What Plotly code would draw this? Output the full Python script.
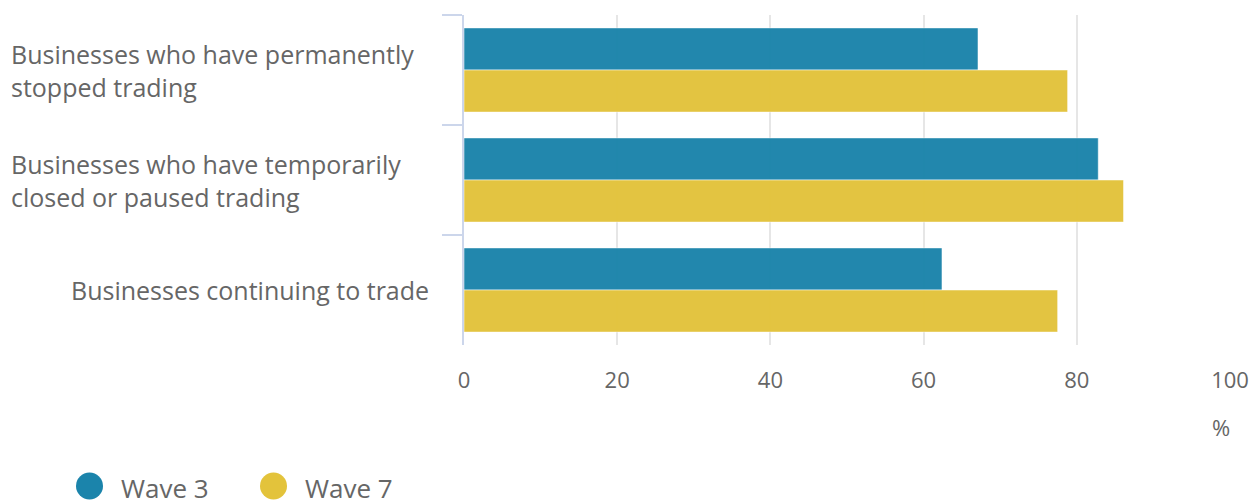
import plotly.graph_objects as go

categories = [
    "Businesses who have permanently<br>stopped trading",
    "Businesses who have temporarily<br>closed or paused trading",
    "Businesses continuing to trade",
]
series_names = ["Wave 3", "Wave 7"]
wave3 = [67.1, 82.8, 62.4]
wave7 = [78.8, 86.1, 77.5]
x_ticks = [0, 20, 40, 60, 80, 100]
x_unit = "%"

colors = ["#1b84ab", "#e3c33b"]
W, H = 1253, 500
L, R, T, B = 464, 23, 15, 155
pw, ph = W - L - R, H - T - B


def px_x(x):
    return (x - L) / pw


def px_y(y):
    return (H - B - y) / ph


fig = go.Figure()
for name, vals, col in zip(series_names, [wave3, wave7], colors):
    fig.add_trace(go.Bar(
        y=categories, x=vals, name=name, orientation="h",
        marker=dict(color=col, opacity=0.97, line=dict(color="rgba(255,255,255,0.5)", width=1)),
        showlegend=False, hoverinfo="x+name",
    ))

font = "Open Sans"
grey = "#666666"
annotations = []
for c in categories:
    if "<br>" in c:
        annotations.append(dict(x=px_x(9), xref="paper", y=c, yref="y", text=c,
                                xanchor="left", yanchor="middle", align="left",
                                showarrow=False, font=dict(family=font, size=25, color=grey)))
    else:
        annotations.append(dict(x=px_x(431), xref="paper", y=c, yref="y", text=c,
                                xanchor="right", yanchor="middle", align="right",
                                showarrow=False, font=dict(family=font, size=25, color=grey)))

annotations.append(dict(x=px_x(1232), xref="paper", y=px_y(427), yref="paper", text=x_unit,
                        xanchor="right", yanchor="middle", showarrow=False,
                        font=dict(family=font, size=22, color=grey)))

shapes = []
legend_x = [89.5, 273.5]
for name, col, cx in zip(series_names, colors, legend_x):
    r = 13.5
    cy = 486
    shapes.append(dict(type="circle", xref="paper", yref="paper",
                       x0=px_x(cx - r), x1=px_x(cx + r), y0=px_y(cy + r), y1=px_y(cy - r),
                       fillcolor=col, line=dict(width=0)))
    annotations.append(dict(x=px_x(cx + 29), xref="paper", y=px_y(cy + 2), yref="paper", text=name,
                            xanchor="left", yanchor="middle", showarrow=False,
                            font=dict(family=font, size=26, color=grey)))

fig.update_layout(
    width=W, height=H,
    margin=dict(l=L, r=R, t=T, b=B, autoexpand=False),
    barmode="group", bargap=0.235, bargroupgap=0,
    plot_bgcolor="white", paper_bgcolor="white",
    annotations=annotations, shapes=shapes,
    xaxis=dict(range=[0, 100], tickvals=x_ticks, ticktext=[str(t) for t in x_ticks],
               showgrid=True, gridcolor="#e6e6e6", gridwidth=1.5, zeroline=False,
               showline=False, ticks="", ticklabelstandoff=20, automargin=False,
               tickfont=dict(family=font, size=22, color=grey)),
    yaxis=dict(autorange="reversed", showticklabels=False, tickson="boundaries",
               ticks="outside", ticklen=20, tickwidth=2, tickcolor="#ccd6eb", automargin=False,
               showline=True, linecolor="#ccd6eb", linewidth=2, showgrid=False),
    showlegend=False,
)

fig.write_html("out.html", config={"displayModeBar": False},
               post_script="document.body.style.margin='0';document.body.style.overflow='hidden';")
